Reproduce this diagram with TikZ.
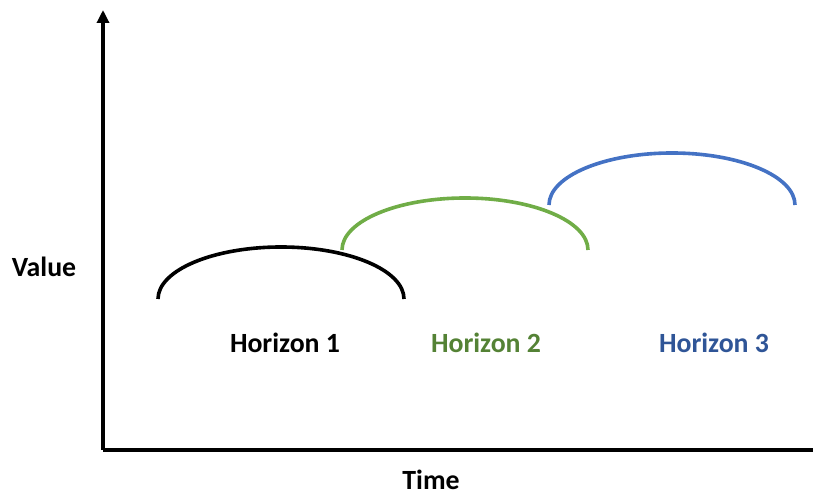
\documentclass[tikz,border=0pt]{standalone}
\usepackage{fontspec}
\setmainfont{Carlito}
\usetikzlibrary{arrows.meta}
\definecolor{hgreen}{RGB}{112,173,71}
\definecolor{hblue}{RGB}{68,114,196}
\definecolor{tgreen}{RGB}{84,130,53}
\definecolor{tblue}{RGB}{47,85,151}
\begin{document}
\begin{tikzpicture}[x=1pt,y=1pt,
  axis/.style={line width=3.2pt},
  horizon/.style={line width=3.6pt},
  lbl/.style={font=\fontsize{27.8}{33}\selectfont\bfseries, inner sep=0pt}]
\useasboundingbox (0,0) rectangle (813,494);
% axes
\coordinate (o) at (103,44);
\coordinate (ytop) at (103,484);
\coordinate (xend) at (813,44);
\draw[axis, -{Triangle[length=13pt,width=12pt]}] (o) -- (ytop);
\draw[axis] (o) -- (xend);
% horizon curves
\coordinate (h1) at (158,195);
\coordinate (h2) at (342,244);
\coordinate (h3) at (549,289);
\draw[horizon, black] (h1) arc[start angle=180, end angle=0, x radius=123, y radius=52];
\draw[horizon, hgreen] (h2) arc[start angle=180, end angle=0, x radius=123, y radius=52];
\draw[horizon, hblue] (h3) arc[start angle=180, end angle=0, x radius=123, y radius=52];
% labels
\node[lbl] (value) at (44,227) {Value};
\node[lbl] (time) at (431,14) {Time};
\node[lbl] (l1) at (285,151) {Horizon 1};
\node[lbl, text=tgreen] (l2) at (486,151) {Horizon 2};
\node[lbl, text=tblue] (l3) at (714,151) {Horizon 3};
\end{tikzpicture}
\end{document}
